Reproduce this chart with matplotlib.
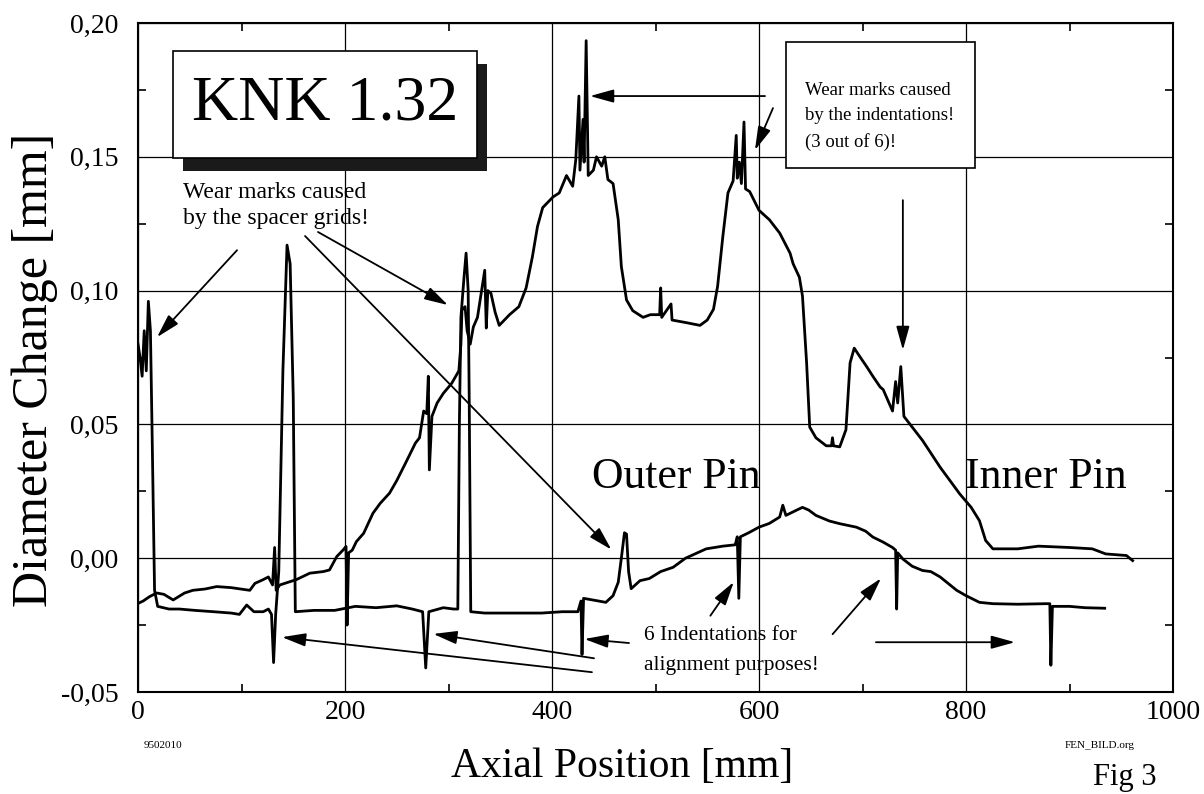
import matplotlib
matplotlib.use("Agg")
import matplotlib.pyplot as plt
from matplotlib.patches import Rectangle
from matplotlib.ticker import MultipleLocator, FuncFormatter

plt.rcParams["font.family"] = ["Liberation Serif", "DejaVu Serif"]

# outer pin: axial position [mm] / diameter change [mm]
outer_x = [0, 2, 4, 6, 8, 10, 12, 13.5, 16, 19, 30, 40, 55, 73, 90, 98, 105, 112,
           121, 126, 129, 131, 133, 136, 140, 144, 147, 150, 152, 170, 190, 210,
           230, 250, 265, 275, 278, 281, 295, 305, 309, 310.5, 312, 315, 317, 319,
           320, 321.5, 335, 360, 390, 410, 425, 428, 429, 430.5, 445, 452, 459,
           464, 467, 470, 472, 474, 476.5, 485, 494, 505, 517, 529, 549, 565, 577,
           579, 580.5, 582, 590, 600, 610, 620, 623, 626, 636, 642, 648, 655, 668,
           678, 694, 703, 710, 720, 729, 732, 733, 734, 739, 748, 758, 766, 775,
           791, 800, 813, 826, 850, 877, 881, 882, 883.5, 900, 915, 934]
outer_y = [0.080, 0.075, 0.068, 0.085, 0.070, 0.096, 0.085, 0.050, -0.012, -0.018,
           -0.019, -0.019, -0.0195, -0.020, -0.0205, -0.021, -0.0175, -0.020,
           -0.020, -0.019, -0.021, -0.039, -0.021, -0.005, 0.070, 0.117, 0.110,
           0.060, -0.020, -0.0195, -0.0195, -0.018, -0.0185, -0.0178, -0.019,
           -0.020, -0.041, -0.020, -0.0185, -0.019, -0.019, 0.050, 0.090, 0.105,
           0.114, 0.100, 0.060, -0.020, -0.0205, -0.0205, -0.0205, -0.020, -0.020,
           -0.016, -0.036, -0.015, -0.016, -0.0165, -0.014, -0.009, 0.000, 0.0095,
           0.009, -0.005, -0.0114, -0.0084, -0.0076, -0.005, -0.0034, 0.000,
           0.0035, 0.0045, 0.005, 0.008, -0.015, 0.008, 0.0095, 0.0116, 0.013,
           0.0154, 0.0198, 0.016, 0.0179, 0.019, 0.018, 0.016, 0.0139, 0.0129,
           0.0116, 0.0101, 0.0079, 0.006, 0.004, 0.003, -0.019, 0.002, -0.0003,
           -0.003, -0.0046, -0.005, -0.007, -0.012, -0.014, -0.0165, -0.017,
           -0.0172, -0.017, -0.017, -0.040, -0.018, -0.018, -0.0185, -0.0187]

# inner pin
inner_x = [0, 5, 11, 18, 25, 34, 45, 53, 65, 76, 90, 108, 113, 121, 126, 130, 132,
           133.5, 137, 145, 153, 166, 179, 185, 192, 198, 201, 202, 203.5, 207,
           211, 218, 227, 234, 243, 250, 260, 268, 272, 276, 279, 280.5, 281.5,
           284, 289, 295, 303, 310, 312, 313, 316, 318, 321, 324, 328, 332, 335,
           336.5, 338, 341, 345, 349, 359, 368, 375, 381, 386, 391, 401, 407, 414,
           420, 423, 426, 427, 430, 431, 433, 435, 440, 443, 448, 451, 454, 459,
           464, 467, 472, 478, 488, 495, 504, 505, 506, 515, 516, 530, 543, 550,
           556, 560, 565, 570, 575, 578, 579, 581, 583, 585.5, 587, 591, 600, 610,
           620, 630, 633, 639, 642, 646, 649, 655, 665, 670, 671, 672, 678, 684,
           688, 692, 698, 704, 710, 717, 720, 729, 732, 734, 737, 740, 746, 758,
           775, 794, 805, 813, 819, 826, 850, 870, 900, 922, 935, 955, 961]
inner_y = [-0.0169, -0.016, -0.0144, -0.013, -0.0135, -0.0156, -0.013, -0.012,
           -0.0115, -0.0106, -0.011, -0.012, -0.0094, -0.008, -0.007, -0.010,
           0.004, -0.012, -0.010, -0.009, -0.008, -0.0056, -0.005, -0.0044,
           0.0006, 0.003, 0.0044, -0.025, 0.002, 0.003, 0.0062, 0.0093, 0.0168,
           0.0205, 0.0243, 0.029, 0.0367, 0.043, 0.045, 0.055, 0.054, 0.068,
           0.033, 0.053, 0.058, 0.0616, 0.0653, 0.070, 0.080, 0.0927, 0.094,
           0.085, 0.080, 0.0864, 0.090, 0.100, 0.1076, 0.086, 0.100, 0.099,
           0.092, 0.087, 0.091, 0.094, 0.101, 0.1125, 0.124, 0.131, 0.135,
           0.1365, 0.143, 0.139, 0.149, 0.1727, 0.145, 0.164, 0.148, 0.1934,
           0.143, 0.145, 0.150, 0.1465, 0.150, 0.1415, 0.140, 0.1265, 0.109,
           0.0965, 0.0925, 0.090, 0.091, 0.091, 0.101, 0.090, 0.095, 0.089,
           0.088, 0.087, 0.089, 0.093, 0.1016, 0.120, 0.1365, 0.141, 0.158,
           0.142, 0.148, 0.140, 0.163, 0.138, 0.137, 0.130, 0.1265, 0.1215,
           0.114, 0.110, 0.105, 0.098, 0.073, 0.049, 0.045, 0.042, 0.042, 0.045,
           0.042, 0.0416, 0.048, 0.073, 0.0785, 0.075, 0.0716, 0.068, 0.064,
           0.063, 0.055, 0.066, 0.058, 0.0716, 0.053, 0.050, 0.044, 0.034, 0.024,
           0.019, 0.014, 0.0066, 0.0035, 0.0035, 0.0045, 0.004, 0.0035, 0.0016,
           0.001, -0.0009]

x_ticks = [0, 200, 400, 600, 800, 1000]
y_ticks = [-0.05, 0.0, 0.05, 0.10, 0.15, 0.20]

W, H = 1204, 794
fig = plt.figure(figsize=(W / 100, H / 100), dpi=100)
ax = fig.add_axes([138 / W, 1 - 692 / H, (1173 - 138) / W, (692 - 23) / H])

ax.plot(outer_x, outer_y, color="black", lw=2.0, zorder=3)
ax.plot(inner_x, inner_y, color="black", lw=2.0, zorder=3)

ax.set_xlim(0, 1000)
ax.set_ylim(-0.05, 0.20)
ax.set_xticks(x_ticks)
ax.set_yticks(y_ticks)
ax.xaxis.set_minor_locator(MultipleLocator(100))
ax.yaxis.set_minor_locator(MultipleLocator(0.025))
ax.yaxis.set_major_formatter(FuncFormatter(lambda v, p: f"{v:.2f}".replace(".", ",")))
ax.tick_params(which="major", length=0, labelsize=20)
ax.tick_params(axis="y", which="major", pad=14)
ax.tick_params(axis="x", which="major", pad=6)
ax.tick_params(which="minor", direction="in", length=6, width=1.2,
               top=True, right=True)
ax.grid(True, color="black", lw=0.9)
ax.set_axisbelow(True)
for s in ax.spines.values():
    s.set_linewidth(1.5)

# KNK box with shadow
ax.add_patch(Rectangle((43.5, 0.1446), 293.7, 0.040, facecolor="#1a1a1a",
                       edgecolor="none", zorder=5, clip_on=False))
ax.add_patch(Rectangle((33.8, 0.1495), 293.7, 0.040, facecolor="white",
                       edgecolor="black", lw=1.2, zorder=6, clip_on=False))
ax.text(180.6, 0.1695, "KNK 1.32", fontsize=46, ha="center", va="center", zorder=7)

# top right box
ax.add_patch(Rectangle((626, 0.1458), 183, 0.0471, facecolor="white",
                       edgecolor="black", lw=1.2, zorder=6, clip_on=False))
ax.text(644.4, 0.1731, "Wear marks caused", fontsize=13.5, zorder=7)
ax.text(644.4, 0.1637, "by the indentations!", fontsize=13.5, zorder=7)
ax.text(644.4, 0.1536, "(3 out of 6)!", fontsize=13.5, zorder=7)

# spacer grid note
ax.text(43.5, 0.1346, "Wear marks caused", fontsize=17, zorder=7)
ax.text(43.5, 0.1249, "by the spacer grids!", fontsize=17, zorder=7)

ax.text(438.6, 0.0262, "Outer Pin", fontsize=31.5, zorder=7)
ax.text(799, 0.0262, "Inner Pin", fontsize=31.5, zorder=7)

ax.text(489, -0.0307, "6 Indentations for", fontsize=15.5, zorder=7)
ax.text(489, -0.0419, "alignment purposes!", fontsize=15.5, zorder=7)

arrow = dict(arrowstyle="-|>,head_length=0.9,head_width=0.25", color="black",
             lw=1.3, mutation_scale=16, shrinkA=0, shrinkB=0)
arrows = [
    ((95.7, 0.1151), (18.4, 0.0826)),
    ((173.9, 0.1219), (299.5, 0.0946)),
    ((161.4, 0.1204), (457.4, 0.0032)),
    ((605.8, 0.1727), (436.7, 0.1727)),
    ((613.5, 0.1682), (596.1, 0.1525)),
    ((739, 0.1338), (739, 0.0778)),
    ((438.6, -0.0426), (139.1, -0.0295)),
    ((440.6, -0.0374), (285.3, -0.0283)),
    ((474.4, -0.0317), (431.3, -0.0302)),
    ((553, -0.0215), (575.6, -0.0089)),
    ((671.1, -0.0284), (717.9, -0.0075)),
    ((713, -0.0314), (847.3, -0.0314)),
]
for tail, tip in arrows:
    ax.annotate("", xy=tip, xytext=tail, arrowprops=arrow, zorder=8)

fig.text(35 / W, 1 - 370 / H, "Diameter Change [mm]", fontsize=36, rotation=90,
         ha="center", va="center")
fig.text(622 / W, 1 - 767 / H, "Axial Position [mm]", fontsize=30,
         ha="center", va="center")
fig.text(163 / W, 1 - 745 / H, "9502010", fontsize=8, ha="center", va="center")
fig.text(1100 / W, 1 - 745 / H, "FEN_BILD.org", fontsize=8, ha="center", va="center")
fig.text(1125 / W, 1 - 777 / H, "Fig 3", fontsize=22, ha="center", va="center")

fig.savefig("out.png", dpi=100)
